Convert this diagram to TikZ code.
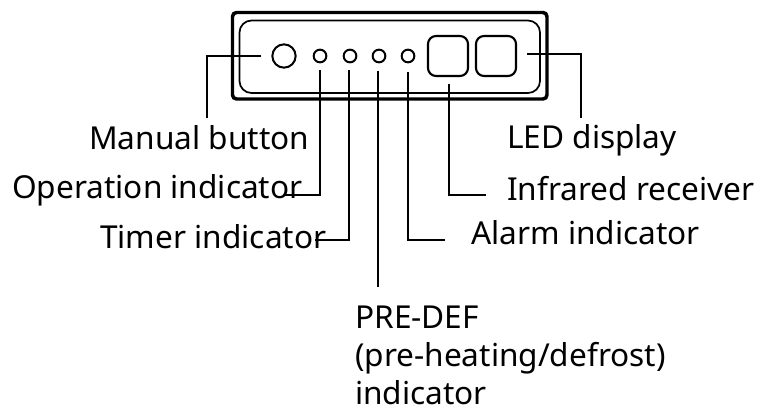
\documentclass[tikz,border=0pt]{standalone}
\usepackage{fontspec}
\setmainfont{Noto Sans}
\tikzset{
  shell/.style={draw, line width=2.6pt, rounded corners=3pt},
  panel/.style={draw, line width=1.3pt, rounded corners=9pt},
  pad/.style={draw, line width=1.6pt, rounded corners=6pt},
  lamp/.style={draw, circle, line width=1.5pt, inner sep=0pt},
  lead/.style={line width=1.5pt},
  caption/.style={anchor=base west, inner sep=0pt, font=\fontsize{23.7}{28.5}\selectfont, align=left}
}
\begin{document}
\begin{tikzpicture}[x=.75pt, y=-.75pt]
    \useasboundingbox (0,0) rectangle (757,410);

    \draw[shell] (232.5,12.5) rectangle (547,99);
    \draw[panel] (239.5,20.5) rectangle (540,93);

    \node[lamp, minimum size=17.5pt] (button) at (284,56) {};
    \foreach \x/\n in {320/a,350/b,379/c,408/d}
    \node[lamp, minimum size=9.5pt] (led\n) at (\x,56) {};
    \draw[pad] (428,36) rectangle (468,76);
    \draw[pad] (476,36) rectangle (516,76);

    \node[caption] (manual) at (89,149) {Manual button};
    \node[caption] (operation) at (12,198) {Operation indicator};
    \node[caption] (timer) at (100,248) {Timer indicator};
    \node[caption] (predef) at (355,404) {PRE-DEF\\(pre-heating/defrost)\\indicator};
    \node[caption] (alarm) at (471,244) {Alarm indicator};
    \node[caption] (infrared) at (507,200) {Infrared receiver};
    \node[caption] (display) at (507,148) {LED display};

    \coordinate (manualfoot) at (207,118);
    \coordinate (manualtip) at (261,56);
    \draw[lead] (manualtip) -| (manualfoot);

    \coordinate (operationtip) at (320,70);
    \coordinate (operationfoot) at (283,195);
    \draw[lead] (operationtip) |- (operationfoot);

    \coordinate (timertip) at (348.5,70);
    \coordinate (timerfoot) at (315,240);
    \draw[lead] (timertip) |- (timerfoot);

    \coordinate (predeftip) at (378,71);
    \coordinate (predeffoot) at (378,287);
    \draw[lead] (predeftip) -- (predeffoot);

    \coordinate (alarmtip) at (407.5,72);
    \coordinate (alarmfoot) at (445,240);
    \draw[lead] (alarmtip) |- (alarmfoot);

    \coordinate (infraredtip) at (448.5,84);
    \coordinate (infraredfoot) at (486,195);
    \draw[lead] (infraredtip) |- (infraredfoot);

    \coordinate (displaytip) at (527,54.5);
    \coordinate (displayfoot) at (581,118);
    \draw[lead] (displaytip) -| (displayfoot);
\end{tikzpicture}
\end{document}
